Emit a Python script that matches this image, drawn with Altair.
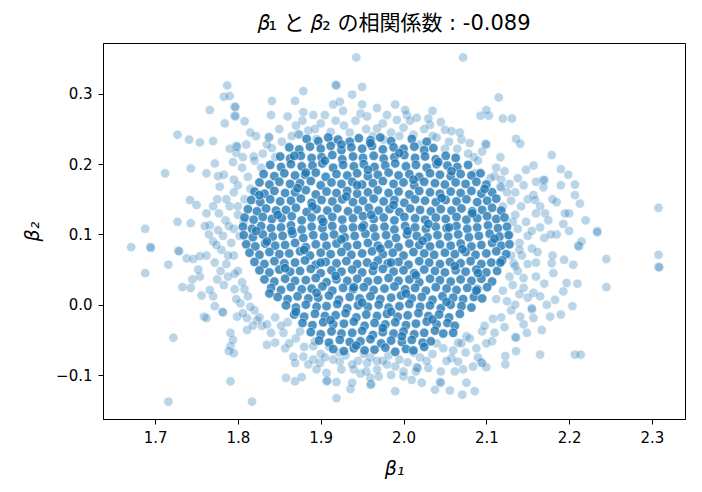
import altair as alt
import pandas as pd

TITLE = "𝛽₁ と 𝛽₂ の相関係数 : -0.089"
X_TITLE = "β₁"
Y_TITLE = "β₂"
X_TICKS = [1.7, 1.8, 1.9, 2.0, 2.1, 2.2, 2.3]
Y_TICKS = [-0.1, 0.0, 0.1, 0.2, 0.3]

# sparse outer samples
outer_b1 = [
    1.943, 2.072, 1.918, 1.919, 1.950, 1.787, 1.783, 1.790, 1.879, 1.841, 1.869, 1.766,
    1.796, 1.797, 1.796, 1.797, 1.784, 1.808, 1.840, 1.879, 1.891, 1.727, 1.741, 1.754, 1.770,
    1.712, 1.743, 1.772, 1.688, 1.727, 1.743, 1.766, 1.742, 1.750, 1.762,
    1.798, 1.799, 1.798, 1.794, 1.819, 1.837, 1.838, 1.841, 1.873, 1.874, 1.915,
    1.927, 1.938, 1.923, 1.956, 1.968, 1.976, 1.992, 1.762, 1.776,
    2.115, 2.035, 2.093, 2.103, 2.100, 2.120, 2.131, 2.099, 2.100, 2.136, 2.141, 2.179, 2.157,
    2.190, 2.199, 2.207, 2.207, 2.213, 2.200, 2.169, 2.170, 2.169, 2.157, 2.159, 2.185, 2.308,
    2.234, 2.171, 2.193, 2.117, 2.138, 2.117, 2.118, 2.110, 2.085, 2.086, 2.070, 2.050, 2.058,
    2.004, 2.016, 2.002, 2.032,
    1.671, 1.694, 1.695, 1.688, 1.716, 1.728, 1.729, 1.722, 1.716, 1.791, 1.817,
    1.733, 1.743, 1.756, 1.745, 1.754, 1.738, 1.746, 1.754, 1.759, 1.762, 1.781, 1.782,
    1.772, 1.770, 1.775, 1.766, 1.791, 1.794, 1.791, 1.789, 1.795, 1.811, 1.823, 1.799, 1.811,
    1.835, 1.845, 1.857, 1.867, 1.869, 1.879, 1.891, 1.858, 1.869, 1.877,
    1.907, 1.908, 1.919, 1.919, 1.936, 1.938, 1.960, 1.961, 1.960, 1.990,
    1.895, 1.907, 1.923, 1.891, 1.899, 1.940, 1.956, 1.968, 1.980,
    2.308, 2.308, 2.309, 2.245, 2.245, 2.211, 2.212, 2.234, 2.207, 2.214, 2.165, 2.135, 2.136,
    2.136, 2.123, 2.123, 2.094, 2.095, 2.100, 2.086, 2.071, 2.076, 2.056, 2.044, 2.045, 2.038,
    2.022, 2.010, 2.000, 2.016, 2.017, 2.058, 2.066, 2.084, 2.072,
    2.167, 2.190, 2.177, 2.183, 2.193, 2.197, 2.204, 2.173, 2.194, 2.205, 2.181, 2.179,
    2.145, 2.149, 2.141, 2.157, 2.155, 2.133, 2.145, 2.157, 2.165, 2.095, 2.107, 2.066, 2.076,
    1.805, 1.812, 1.800, 1.795, 1.808, 1.790, 1.800, 1.785, 1.795, 1.782, 1.792, 1.780, 1.795,
    1.786, 1.800, 1.788, 1.805, 1.796, 1.812, 1.803, 1.820, 1.829, 1.840, 1.820, 1.830, 1.775,
    1.778, 1.770, 1.772, 1.765, 1.783, 1.810, 1.822, 1.850, 1.853, 1.828,
    1.870, 1.885, 1.900, 1.912, 1.928, 1.942, 1.955, 1.963, 1.985, 2.000, 2.012, 2.025, 2.040,
    2.055, 2.065, 2.078, 2.090, 1.895, 2.020, 2.045, 1.860, 1.905, 1.968, 2.030, 1.990, 1.950,
    2.112, 2.122, 2.128, 2.135, 2.130, 2.142, 2.135, 2.148, 2.138, 2.150, 2.140, 2.155, 2.143,
    2.150, 2.138, 2.145, 2.132, 2.140, 2.125, 2.130, 2.118, 2.122, 2.110, 2.100, 2.088, 2.160,
    2.165, 2.170, 2.162, 2.175, 2.180, 2.190, 2.160, 2.170, 2.185, 2.195, 2.200, 2.215, 2.220,
    2.160, 2.148, 2.155, 2.210, 2.180,
    1.900, 1.915, 1.930, 1.945, 1.960, 1.975, 1.990, 2.005, 2.020, 2.035, 2.048, 2.060, 2.075,
    2.030, 2.045, 1.925, 1.948, 1.970, 1.880, 1.870, 1.855, 1.860, 1.845, 1.985, 2.000, 2.062,
    2.090, 1.910,
    1.795, 1.786, 1.777, 1.789, 1.776, 1.802, 1.774, 1.788, 1.779, 1.796, 1.783, 1.808, 1.798,
    1.815, 1.806, 1.826, 1.818, 1.835, 1.807, 1.800, 1.815, 1.806, 1.790, 1.815, 1.835, 1.845,
    1.770, 1.760, 1.762, 1.752,
    1.865, 1.878, 1.893, 1.918, 1.935, 1.948, 1.975, 1.995, 2.008, 2.035, 2.050, 2.068, 2.080,
    2.095, 1.980, 1.915,
    2.105, 2.118, 2.125, 2.120, 2.132, 2.128, 2.140, 2.130, 2.135, 2.128, 2.120, 2.112, 2.108,
    2.098, 2.150, 2.145, 2.155, 2.160, 2.150, 2.135, 2.165, 2.178,
    1.893, 1.905, 1.922, 1.938, 1.952, 1.968, 1.982, 1.995, 2.012, 2.028, 2.040, 2.052, 2.070,
    2.080, 1.875, 1.862, 1.852, 1.885, 1.955, 2.015,
]
outer_b2 = [
    0.352, 0.352, 0.313, 0.312, 0.310, 0.312, 0.296, 0.297, 0.304, 0.290, 0.290, 0.277,
    0.282, 0.281, 0.269, 0.268, 0.258, 0.261, 0.270, 0.274, 0.270, 0.242, 0.235, 0.231, 0.233,
    0.187, 0.194, 0.201, 0.108, 0.118, 0.116, 0.113, 0.149, 0.142, 0.130,
    0.226, 0.225, 0.216, 0.203, 0.211, 0.239, 0.238, 0.223, 0.243, 0.242, 0.232,
    0.276, 0.299, 0.289, 0.268, 0.251, 0.235, 0.263, 0.187, 0.183,
    0.295, 0.276, 0.269, 0.269, 0.277, 0.265, 0.265, 0.229, 0.228, 0.236, 0.229, 0.213, 0.198,
    0.193, 0.185, 0.171, 0.156, 0.144, 0.130, 0.178, 0.177, 0.167, 0.156, 0.149, 0.146, 0.138,
    0.105, 0.130, 0.115, 0.210, 0.180, 0.168, 0.167, 0.183, 0.210, 0.187, 0.235, 0.249, 0.247,
    0.270, 0.266, 0.277, 0.256,
    0.082, 0.082, 0.081, 0.045, 0.057, 0.077, 0.076, -0.047, -0.138, -0.109, -0.138,
    0.025, 0.024, 0.013, 0.036, 0.040, 0.066, 0.065, 0.069, -0.017, -0.019, -0.010, -0.011,
    -0.002, 0.012, 0.036, 0.021, -0.040, -0.050, -0.059, -0.066, -0.069, -0.036, -0.022, -0.017, -0.019,
    -0.057, -0.054, -0.062, -0.074, -0.083, -0.074, -0.059, -0.104, -0.109, -0.103,
    -0.109, -0.108, -0.110, -0.133, -0.120, -0.111, -0.114, -0.113, -0.104, -0.123,
    -0.092, -0.097, -0.081, -0.078, -0.083, -0.092, -0.083, -0.092, -0.085,
    0.071, 0.054, 0.053, 0.065, 0.025, 0.084, 0.083, 0.103, -0.071, -0.071, -0.071, -0.046, -0.047,
    -0.066, -0.073, -0.085, -0.082, -0.083, -0.089, -0.123, -0.128, -0.111, -0.122, -0.110, -0.111, -0.121,
    -0.111, -0.107, -0.102, -0.089, -0.090, -0.076, -0.081, -0.088, -0.092,
    -0.036, -0.014, -0.017, 0.007, 0.019, 0.031, -0.002, 0.000, 0.064, 0.057, 0.045, 0.059,
    -0.028, -0.040, -0.017, -0.019, -0.007, 0.059, 0.024, 0.017, 0.012, -0.038, -0.052, -0.054, -0.045,
    0.195, 0.182, 0.170, 0.160, 0.150, 0.140, 0.128, 0.120, 0.108, 0.098, 0.088, 0.078, 0.070,
    0.058, 0.048, 0.040, 0.032, 0.022, 0.012, 0.002, -0.008, -0.030, -0.040, 0.205, 0.215, 0.150,
    0.168, 0.090, 0.060, 0.100, 0.185, 0.228, 0.240, 0.250, 0.232, 0.195,
    0.255, 0.248, 0.258, 0.246, 0.255, 0.262, 0.250, 0.240, 0.245, 0.252, 0.242, 0.250, 0.238,
    0.232, 0.222, 0.215, 0.205, 0.236, 0.228, 0.260, 0.268, 0.270, 0.280, 0.265, 0.285, 0.285,
    0.195, 0.190, 0.172, 0.160, 0.148, 0.140, 0.128, 0.118, 0.108, 0.098, 0.088, 0.080, 0.070,
    0.058, 0.048, 0.038, 0.028, 0.015, 0.005, -0.008, -0.018, -0.032, -0.040, -0.055, -0.062, 0.130,
    0.110, 0.095, 0.075, 0.120, 0.150, 0.170, 0.040, 0.030, 0.100, 0.130, 0.105, 0.090, 0.120,
    0.175, 0.192, -0.005, 0.030, 0.070,
    -0.070, -0.078, -0.072, -0.080, -0.075, -0.080, -0.088, -0.082, -0.075, -0.070, -0.062, -0.065, -0.068,
    -0.090, -0.095, -0.092, -0.098, -0.102, -0.060, -0.048, -0.040, -0.025, -0.018, -0.100, -0.095, -0.095,
    -0.075, -0.060,
    0.178, 0.150, 0.130, 0.112, 0.106, 0.098, 0.085, 0.070, 0.048, 0.044, 0.028, 0.022, 0.008,
    -0.003, -0.012, -0.018, -0.030, -0.028, 0.118, 0.140, 0.165, 0.210, 0.222, 0.245, 0.228, 0.210,
    0.140, 0.112, 0.070, 0.050,
    0.240, 0.262, 0.250, 0.262, 0.245, 0.272, 0.258, 0.240, 0.262, 0.240, 0.222, 0.245, 0.230,
    0.218, 0.270, 0.285,
    0.180, 0.178, 0.160, 0.140, 0.118, 0.100, 0.078, 0.070, 0.055, 0.040, 0.020, 0.008, -0.020,
    -0.030, 0.150, 0.170, 0.105, 0.060, 0.010, 0.000, 0.140, 0.100,
    -0.052, -0.075, -0.068, -0.085, -0.070, -0.080, -0.072, -0.078, -0.068, -0.080, -0.055, -0.080, -0.055,
    -0.048, -0.038, -0.055, -0.030, -0.085, -0.095, -0.095,
]

# dense core (overlapping samples, estimated)
core_b1 = [
    1.883, 1.897, 1.909, 1.921, 1.935, 1.946, 1.960, 1.972, 1.985, 2.010, 2.028,
    1.862, 1.874, 1.887, 1.900, 1.912, 1.925, 1.937, 1.950, 1.962, 1.975, 1.988, 2.000, 2.013, 2.025, 2.036,
    1.851, 1.863, 1.876, 1.889, 1.901, 1.914, 1.926, 1.939, 1.951, 1.964, 1.976, 1.989, 2.001, 2.014, 2.026, 2.039, 2.051, 2.063,
    1.839, 1.852, 1.864, 1.877, 1.890, 1.902, 1.915, 1.927, 1.940, 1.952, 1.965, 1.978, 1.990, 2.003, 2.015, 2.028, 2.040, 2.053, 2.065, 2.078,
    1.831, 1.844, 1.856, 1.869, 1.881, 1.894, 1.906, 1.919, 1.932, 1.944, 1.957, 1.969, 1.982, 1.994, 2.007, 2.019, 2.032, 2.044, 2.057, 2.069, 2.082, 2.093,
    1.826, 1.838, 1.850, 1.863, 1.875, 1.888, 1.900, 1.913, 1.925, 1.938, 1.950, 1.963, 1.975, 1.988, 2.000, 2.013, 2.025, 2.038, 2.050, 2.063, 2.075, 2.088, 2.100,
    1.820, 1.832, 1.844, 1.857, 1.869, 1.882, 1.894, 1.907, 1.919, 1.932, 1.944, 1.957, 1.969, 1.982, 1.994, 2.007, 2.019, 2.032, 2.044, 2.057, 2.069, 2.082, 2.094, 2.107,
    1.816, 1.827, 1.839, 1.851, 1.864, 1.876, 1.889, 1.901, 1.914, 1.926, 1.939, 1.951, 1.964, 1.976, 1.989, 2.001, 2.014, 2.026, 2.039, 2.051, 2.064, 2.076, 2.089, 2.101, 2.112,
    1.812, 1.823, 1.834, 1.846, 1.858, 1.870, 1.883, 1.895, 1.908, 1.920, 1.933, 1.945, 1.958, 1.970, 1.983, 1.995, 2.008, 2.020, 2.033, 2.045, 2.058, 2.070, 2.083, 2.095, 2.107, 2.118,
    1.808, 1.819, 1.830, 1.841, 1.853, 1.865, 1.877, 1.889, 1.901, 1.914, 1.926, 1.939, 1.951, 1.964, 1.976, 1.989, 2.001, 2.014, 2.026, 2.039, 2.051, 2.064, 2.076, 2.089, 2.101, 2.112, 2.122,
    1.806, 1.817, 1.828, 1.840, 1.852, 1.864, 1.877, 1.889, 1.902, 1.914, 1.927, 1.939, 1.952, 1.964, 1.977, 1.989, 2.002, 2.014, 2.027, 2.039, 2.052, 2.064, 2.077, 2.089, 2.102, 2.114, 2.125,
    1.807, 1.818, 1.830, 1.842, 1.854, 1.866, 1.879, 1.891, 1.904, 1.916, 1.929, 1.941, 1.954, 1.966, 1.979, 1.991, 2.004, 2.016, 2.029, 2.041, 2.054, 2.066, 2.079, 2.091, 2.104, 2.116, 2.127,
    1.810, 1.821, 1.833, 1.845, 1.857, 1.869, 1.882, 1.894, 1.907, 1.919, 1.932, 1.944, 1.957, 1.969, 1.982, 1.994, 2.007, 2.019, 2.032, 2.044, 2.057, 2.069, 2.082, 2.094, 2.107, 2.118, 2.128,
    1.814, 1.826, 1.838, 1.850, 1.862, 1.875, 1.887, 1.900, 1.912, 1.925, 1.937, 1.950, 1.962, 1.975, 1.987, 2.000, 2.012, 2.025, 2.037, 2.050, 2.062, 2.075, 2.087, 2.100, 2.112, 2.124,
    1.820, 1.832, 1.844, 1.856, 1.869, 1.881, 1.894, 1.906, 1.919, 1.931, 1.944, 1.956, 1.969, 1.981, 1.994, 2.006, 2.019, 2.031, 2.044, 2.056, 2.069, 2.081, 2.094, 2.106, 2.119,
    1.826, 1.838, 1.850, 1.863, 1.875, 1.888, 1.900, 1.913, 1.925, 1.938, 1.950, 1.963, 1.975, 1.988, 2.000, 2.013, 2.025, 2.038, 2.050, 2.063, 2.075, 2.088, 2.100, 2.113,
    1.832, 1.844, 1.857, 1.869, 1.882, 1.894, 1.907, 1.919, 1.932, 1.944, 1.957, 1.969, 1.982, 1.994, 2.007, 2.019, 2.032, 2.044, 2.057, 2.069, 2.082, 2.094, 2.107,
    1.840, 1.852, 1.864, 1.877, 1.889, 1.902, 1.914, 1.927, 1.939, 1.952, 1.964, 1.977, 1.989, 2.002, 2.014, 2.027, 2.039, 2.052, 2.064, 2.077, 2.089, 2.101,
    1.848, 1.860, 1.872, 1.885, 1.897, 1.910, 1.922, 1.935, 1.947, 1.960, 1.972, 1.985, 1.997, 2.010, 2.022, 2.035, 2.047, 2.060, 2.072, 2.085, 2.095,
    1.858, 1.870, 1.882, 1.895, 1.907, 1.920, 1.932, 1.945, 1.957, 1.970, 1.982, 1.995, 2.007, 2.020, 2.032, 2.045, 2.057, 2.070, 2.082,
    1.868, 1.880, 1.893, 1.905, 1.918, 1.930, 1.943, 1.955, 1.968, 1.980, 1.993, 2.005, 2.018, 2.030, 2.043, 2.055, 2.068,
    1.878, 1.890, 1.903, 1.915, 1.928, 1.940, 1.953, 1.965, 1.978, 1.990, 2.003, 2.015, 2.028, 2.040, 2.053, 2.062,
    1.888, 1.900, 1.913, 1.925, 1.938, 1.950, 1.963, 1.975, 1.988, 2.000, 2.013, 2.025, 2.038, 2.048,
    1.898, 1.910, 1.923, 1.935, 1.948, 1.960, 1.973, 1.985, 1.998, 2.010, 2.023, 2.033,
    1.915, 1.928, 1.940, 1.953, 1.965, 1.978, 1.990, 2.003, 2.012,
    1.905, 1.957, 2.012, 1.872, 1.931, 2.046, 1.988, 1.848, 1.903, 1.961, 2.030, 2.083, 1.835,
    1.880, 1.925, 1.972, 2.023, 2.071, 2.110, 1.857, 1.918, 1.964, 2.015, 2.062, 1.895, 1.950,
    2.003, 2.052, 1.912, 1.975, 2.035, 1.943, 1.998, 1.882, 1.995, 2.058, 1.826, 2.098, 1.822,
    2.117, 1.838, 2.088, 1.870, 2.060, 1.925, 2.042, 1.944, 1.890, 2.005, 1.950, 1.865, 2.055,
    1.985, 1.900, 2.090, 1.940, 1.985, 2.025, 1.960, 1.868,
]
core_b2 = [
    0.236, 0.233, 0.238, 0.235, 0.232, 0.237, 0.234, 0.238, 0.233, 0.236, 0.232,
    0.224, 0.221, 0.225, 0.222, 0.226, 0.220, 0.224, 0.222, 0.226, 0.221, 0.224, 0.222, 0.225, 0.220, 0.223,
    0.211, 0.208, 0.212, 0.209, 0.210, 0.213, 0.207, 0.211, 0.209, 0.212, 0.208, 0.210, 0.213, 0.209, 0.211, 0.207, 0.212, 0.209,
    0.199, 0.196, 0.200, 0.197, 0.198, 0.201, 0.195, 0.199, 0.197, 0.200, 0.196, 0.198, 0.201, 0.197, 0.199, 0.195, 0.200, 0.198, 0.196, 0.199,
    0.186, 0.183, 0.187, 0.184, 0.185, 0.188, 0.182, 0.186, 0.184, 0.187, 0.183, 0.185, 0.188, 0.184, 0.186, 0.182, 0.187, 0.185, 0.183, 0.186, 0.184, 0.187,
    0.174, 0.171, 0.175, 0.172, 0.173, 0.176, 0.170, 0.174, 0.172, 0.175, 0.171, 0.173, 0.176, 0.172, 0.174, 0.170, 0.175, 0.173, 0.171, 0.174, 0.172, 0.175, 0.171,
    0.161, 0.158, 0.162, 0.159, 0.160, 0.163, 0.157, 0.161, 0.159, 0.162, 0.158, 0.160, 0.163, 0.159, 0.161, 0.157, 0.162, 0.160, 0.158, 0.161, 0.159, 0.162, 0.158, 0.160,
    0.149, 0.146, 0.150, 0.147, 0.148, 0.151, 0.145, 0.149, 0.147, 0.150, 0.146, 0.148, 0.151, 0.147, 0.149, 0.145, 0.150, 0.148, 0.146, 0.149, 0.147, 0.150, 0.146, 0.148, 0.151,
    0.136, 0.133, 0.137, 0.134, 0.135, 0.138, 0.132, 0.136, 0.134, 0.137, 0.133, 0.135, 0.138, 0.134, 0.136, 0.132, 0.137, 0.135, 0.133, 0.136, 0.134, 0.137, 0.133, 0.135, 0.138, 0.134,
    0.124, 0.121, 0.125, 0.122, 0.123, 0.126, 0.120, 0.124, 0.122, 0.125, 0.121, 0.123, 0.126, 0.122, 0.124, 0.120, 0.125, 0.123, 0.121, 0.124, 0.122, 0.125, 0.121, 0.123, 0.126, 0.122, 0.124,
    0.111, 0.108, 0.112, 0.109, 0.110, 0.113, 0.107, 0.111, 0.109, 0.112, 0.108, 0.110, 0.113, 0.109, 0.111, 0.107, 0.112, 0.110, 0.108, 0.111, 0.109, 0.112, 0.108, 0.110, 0.113, 0.109, 0.111,
    0.099, 0.096, 0.100, 0.097, 0.098, 0.101, 0.095, 0.099, 0.097, 0.100, 0.096, 0.098, 0.101, 0.097, 0.099, 0.095, 0.100, 0.098, 0.096, 0.099, 0.097, 0.100, 0.096, 0.098, 0.101, 0.097, 0.099,
    0.086, 0.083, 0.087, 0.084, 0.085, 0.088, 0.082, 0.086, 0.084, 0.087, 0.083, 0.085, 0.088, 0.084, 0.086, 0.082, 0.087, 0.085, 0.083, 0.086, 0.084, 0.087, 0.083, 0.085, 0.088, 0.084, 0.086,
    0.074, 0.071, 0.075, 0.072, 0.073, 0.076, 0.070, 0.074, 0.072, 0.075, 0.071, 0.073, 0.076, 0.072, 0.074, 0.070, 0.075, 0.073, 0.071, 0.074, 0.072, 0.075, 0.071, 0.073, 0.076, 0.072,
    0.061, 0.058, 0.062, 0.059, 0.060, 0.063, 0.057, 0.061, 0.059, 0.062, 0.058, 0.060, 0.063, 0.059, 0.061, 0.057, 0.062, 0.060, 0.058, 0.061, 0.059, 0.062, 0.058, 0.060, 0.063,
    0.049, 0.046, 0.050, 0.047, 0.048, 0.051, 0.045, 0.049, 0.047, 0.050, 0.046, 0.048, 0.051, 0.047, 0.049, 0.045, 0.050, 0.048, 0.046, 0.049, 0.047, 0.050, 0.046, 0.048,
    0.036, 0.033, 0.037, 0.034, 0.035, 0.038, 0.032, 0.036, 0.034, 0.037, 0.033, 0.035, 0.038, 0.034, 0.036, 0.032, 0.037, 0.035, 0.033, 0.036, 0.034, 0.037, 0.033,
    0.024, 0.021, 0.025, 0.022, 0.023, 0.026, 0.020, 0.024, 0.022, 0.025, 0.021, 0.023, 0.026, 0.022, 0.024, 0.020, 0.025, 0.023, 0.021, 0.024, 0.022, 0.025,
    0.011, 0.008, 0.012, 0.009, 0.010, 0.013, 0.007, 0.011, 0.009, 0.012, 0.008, 0.010, 0.013, 0.009, 0.011, 0.007, 0.012, 0.010, 0.008, 0.011, 0.009,
    -0.001, -0.004, 0.000, -0.003, -0.002, 0.001, -0.005, -0.001, -0.003, 0.000, -0.004, -0.002, 0.001, -0.003, -0.001, -0.005, 0.000, -0.002, -0.004,
    -0.014, -0.017, -0.013, -0.016, -0.015, -0.012, -0.018, -0.014, -0.016, -0.013, -0.017, -0.015, -0.012, -0.016, -0.014, -0.018, -0.013,
    -0.026, -0.029, -0.025, -0.028, -0.027, -0.024, -0.030, -0.026, -0.028, -0.025, -0.029, -0.027, -0.024, -0.028, -0.026, -0.030,
    -0.039, -0.042, -0.038, -0.041, -0.040, -0.037, -0.043, -0.039, -0.041, -0.038, -0.042, -0.040, -0.037, -0.041,
    -0.051, -0.054, -0.050, -0.053, -0.052, -0.049, -0.055, -0.051, -0.053, -0.050, -0.054, -0.052,
    -0.063, -0.066, -0.062, -0.065, -0.064, -0.061, -0.067, -0.063, -0.065,
    0.205, 0.192, 0.178, 0.166, 0.154, 0.152, 0.142, 0.128, 0.118, 0.128, 0.115, 0.130, 0.090,
    0.078, 0.093, 0.080, 0.091, 0.079, 0.094, 0.052, 0.041, 0.055, 0.042, 0.055, 0.017, 0.003,
    0.016, 0.004, -0.022, -0.033, -0.021, -0.058, -0.045, 0.188, 0.216, 0.190, 0.156, 0.165, 0.105,
    0.060, 0.016, 0.020, -0.010, -0.040, 0.228, 0.203, 0.170, 0.140, 0.105, 0.110, 0.105, 0.110,
    0.060, 0.060, 0.045, 0.025, -0.010, -0.060, 0.230, 0.212,
]

outer = pd.DataFrame({"b1": outer_b1, "b2": outer_b2})
core = pd.DataFrame({"b1": core_b1, "b2": core_b2})

x_scale = alt.Scale(domain=[1.637, 2.340], nice=False, zero=False)
y_scale = alt.Scale(domain=[-0.1626, 0.3725], nice=False, zero=False)

x_enc = alt.X(
    "b1:Q", scale=x_scale,
    axis=alt.Axis(values=X_TICKS, format=".1f", title=X_TITLE,
                  titleY=49, titleBaseline="middle"),
)
y_enc = alt.Y(
    "b2:Q", scale=y_scale,
    axis=alt.Axis(values=Y_TICKS, format=".1f", title=Y_TITLE,
                  titleX=-71, titleY=188, titleAngle=270,
                  titleAlign="center", titleBaseline="middle"),
)

BLUE = "#1f77b4"
outer_layer = alt.Chart(outer).mark_circle(
    size=90, color=BLUE, opacity=0.3, stroke="white", strokeWidth=0.75
).encode(x=x_enc, y=y_enc)
core_layer = alt.Chart(core).mark_circle(
    size=90, color=BLUE, opacity=0.78, stroke="white", strokeWidth=0.6
).encode(x=x_enc, y=y_enc)

chart = (
    alt.layer(outer_layer, core_layer)
    .properties(
        width=582, height=376,
        padding={"left": 95, "top": 35, "right": 9, "bottom": 70},
        autosize=alt.AutoSizeParams(type="none"),
        title=alt.TitleParams(
            TITLE, font="DejaVu Sans, DejaVu Serif, Noto Sans CJK JP",
            fontSize=21, fontWeight="normal", color="#000",
            anchor="middle", baseline="alphabetic", offset=11, frame="group",
            dy=19,
        ),
    )
    .configure_view(stroke="#000", strokeWidth=1)
    .configure_axis(
        grid=False, domainColor="#000", domainWidth=1, tickColor="#000",
        tickSize=5, tickWidth=1, labelColor="#000", labelFont="DejaVu Sans",
        labelFontSize=15, labelPadding=6, titleColor="#000",
        titleFont="DejaVu Sans", titleFontSize=19, titleFontStyle="italic",
        titleFontWeight="normal",
    )
)

chart.save("out.html", embed_options={"renderer": "svg", "actions": False})
